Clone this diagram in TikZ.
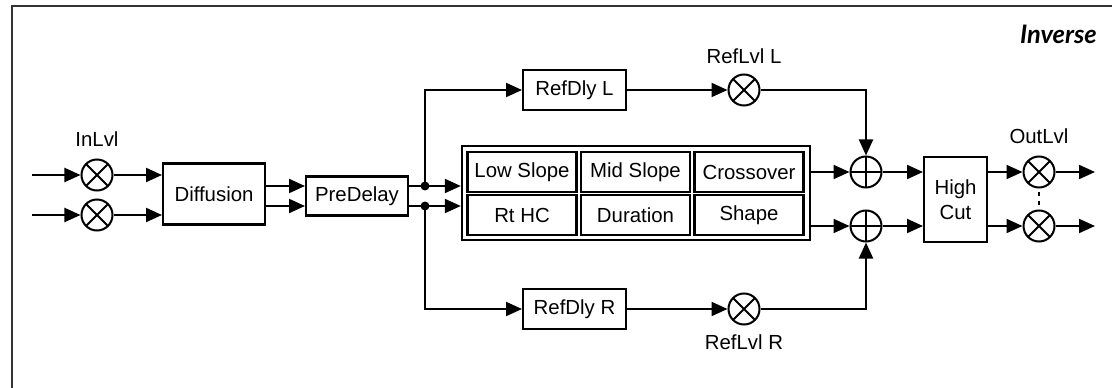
\documentclass[tikz,border=0pt]{standalone}
\usepackage{fontspec}
\setmainfont{Liberation Sans}
\newfontfamily\tagfont{Lato}
\usetikzlibrary{arrows.meta, positioning}

\begin{document}
\begin{tikzpicture}[
  x=0.02cm, y=-0.02cm,
  font=\fontsize{11.6}{14}\selectfont,
  blk/.style={draw, line width=1.15pt, inner sep=0pt, align=center},
  cell/.style={blk, line width=1.3pt, minimum width=2.18cm, minimum height=0.8cm},
  mult/.style={circle, draw, line width=1.15pt, minimum size=0.62cm, inner sep=0pt,
    path picture={\draw[line width=1.15pt]
      (path picture bounding box.north west) -- (path picture bounding box.south east)
      (path picture bounding box.north east) -- (path picture bounding box.south west);}},
  sum/.style={circle, draw, line width=1.15pt, minimum size=0.62cm, inner sep=0pt,
    path picture={\draw[line width=1.15pt]
      (path picture bounding box.north) -- (path picture bounding box.south)
      (path picture bounding box.east) -- (path picture bounding box.west);}},
  arrow/.style={-{Triangle[length=0.32cm, width=0.28cm]}, line width=1.15pt},
  lbl/.style={inner sep=1pt}
]
  \useasboundingbox (0,0) rectangle (1112,388);
  \draw[line width=1.4pt, black!80] (1112,6) -- (12,6) -- (12,388);
  \node[font=\tagfont\fontsize{14.5}{16}\selectfont\bfseries\itshape, anchor=east] (title) at (1103,34) {Inverse};

  % channel heights
  \coordinate (chA) at (0,186);
  \coordinate (chB) at (0,206);

  % input stage
  \coordinate (src1) at (32,175);
  \coordinate (src2) at (32,215);
  \node[mult] (in1) at (97,175) {};
  \node[mult] (in2) at (97,215) {};
  \node[lbl, above=0.2cm of in1] (inlbl) {InLvl};
  \node[blk, minimum width=2.04cm, minimum height=1.22cm] (diff) at (214,194) {Diffusion};
  \node[blk, minimum width=2.04cm, minimum height=0.78cm] (pre) at (357,196) {PreDelay};

  % reverb core
  \node[blk, line width=1.4pt, minimum width=6.96cm, minimum height=1.88cm] (main) at (636,193) {};
  \node[cell] (lowsl) at (522,172) {Low Slope};
  \node[cell] (midsl) at (635.5,172) {Mid Slope};
  \node[cell] (xover) at (749,172) {Crossover};
  \node[cell] (rthc)  at (522,215) {Rt HC};
  \node[cell] (dur)   at (635.5,215) {Duration};
  \node[cell] (shape) at (749,215) {Shape};

  % reflections
  \node[blk, minimum width=2.06cm, minimum height=0.8cm] (refdl) at (574.5,90) {RefDly L};
  \node[blk, minimum width=2.06cm, minimum height=0.8cm] (refdr) at (574.5,309) {RefDly R};
  \node[mult] (refll) at (744,90) {};
  \node[mult] (reflr) at (744,309) {};
  \node[lbl, above=0.15cm of refll] (refllbl) {RefLvl L};
  \node[lbl, below=0.15cm of reflr] (reflrlbl) {RefLvl R};

  % output stage
  \node[sum] (sum1) at (866,172) {};
  \node[sum] (sum2) at (866,226) {};
  \node[blk, minimum width=1.26cm, minimum height=1.7cm] (hcut) at (955.5,199.5) {High\\Cut};
  \node[mult] (out1) at (1039,172) {};
  \node[mult] (out2) at (1039,226) {};
  \node[lbl, above=0.2cm of out1] (outlbl) {OutLvl};
  \coordinate (dst1) at (1095,172);
  \coordinate (dst2) at (1095,226);

  \draw[arrow] (src1) -- (in1);
  \draw[arrow] (src2) -- (in2);
  \draw[arrow] (in1) -- (in1 -| diff.west);
  \draw[arrow] (in2) -- (in2 -| diff.west);
  \draw[arrow] (diff.east |- chA) -- (pre.west |- chA);
  \draw[arrow] (diff.east |- chB) -- (pre.west |- chB);
  \draw[arrow] (pre.east |- chA) -- (main.west |- chA);
  \draw[arrow] (pre.east |- chB) -- (main.west |- chB);

  % taps to the reflections
  \coordinate (brA) at (425,186);
  \coordinate (brB) at (425,206);
  \fill (brA) circle (0.09cm);
  \fill (brB) circle (0.09cm);
  \draw[arrow] (brA) |- (refdl);
  \draw[arrow] (brB) |- (refdr);
  \draw[arrow] (refdl) -- (refll);
  \draw[arrow] (refdr) -- (reflr);
  \draw[arrow] (refll) -| (sum1);
  \draw[arrow] (reflr) -| (sum2);

  \draw[arrow] (main.east |- sum1) -- (sum1);
  \draw[arrow] (main.east |- sum2) -- (sum2);
  \draw[arrow] (sum1) -- (sum1 -| hcut.west);
  \draw[arrow] (sum2) -- (sum2 -| hcut.west);
  \draw[arrow] (hcut.east |- out1) -- (out1);
  \draw[arrow] (hcut.east |- out2) -- (out2);
  \draw[arrow] (out1) -- (dst1);
  \draw[arrow] (out2) -- (dst2);
  \draw[line width=1.15pt, dash pattern=on 2.5pt off 2.5pt, shorten <=2pt, shorten >=2pt] (out1) -- (out2);
\end{tikzpicture}
\end{document}
